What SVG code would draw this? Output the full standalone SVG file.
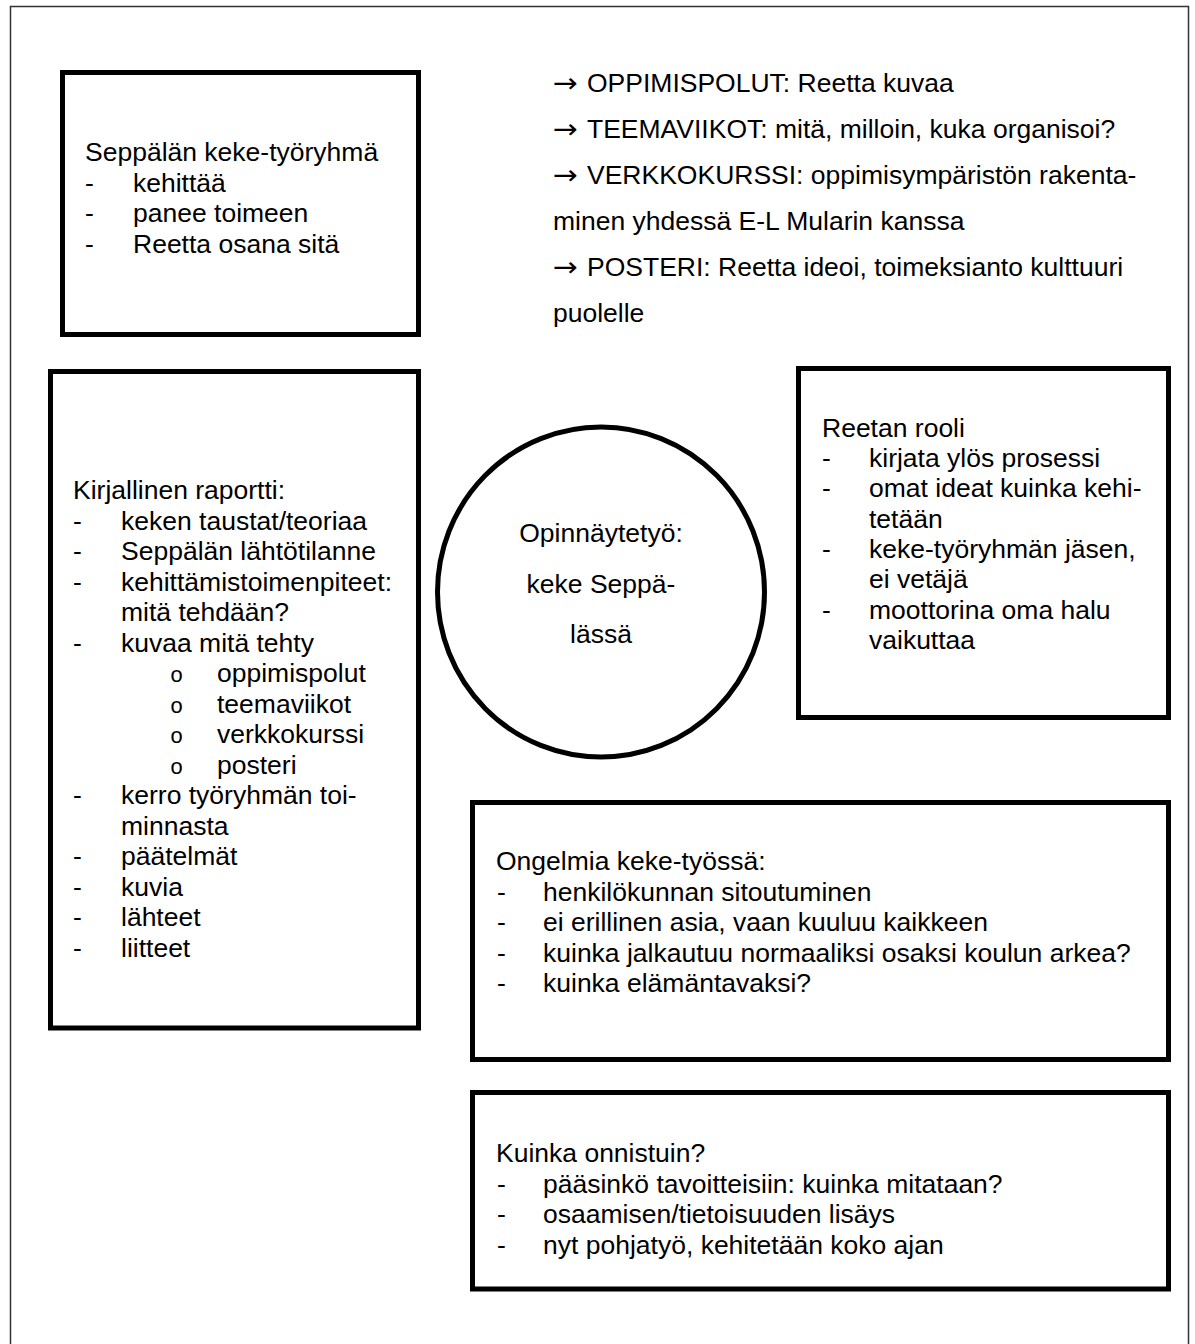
<svg xmlns="http://www.w3.org/2000/svg" width="1195" height="1344" viewBox="0 0 1195 1344">
<style>
.box{fill:#fff;stroke:#000;stroke-width:5}
.t{font-family:"Liberation Sans",Arial,sans-serif;font-size:26.5px;fill:#000}
.a{font-family:"DejaVu Sans","Liberation Sans",sans-serif;font-size:27px;fill:#000}
.o{font-family:"Liberation Mono","Courier New",monospace;font-size:22px;fill:#000}
</style>
<rect x="0" y="0" width="1195" height="1344" fill="#fff"/>
<path d="M10.5,1350 V6.5 H1188.5 V1350" fill="none" stroke="#333" stroke-width="1.5"/>
<g id="connectors"></g>
<g id="node-tyoryhma">
<rect class="box" x="62.5" y="72.5" width="356" height="262"/>
<text class="t" x="85" y="161">Seppälän keke-työryhmä</text>
<text class="t" x="85" y="191.5">-</text><text class="t" x="133" y="191.5">kehittää</text>
<text class="t" x="85" y="222">-</text><text class="t" x="133" y="222">panee toimeen</text>
<text class="t" x="85" y="252.5">-</text><text class="t" x="133" y="252.5">Reetta osana sitä</text>
</g>
<g id="node-lista">
<text class="a" x="553" y="92" textLength="25" lengthAdjust="spacingAndGlyphs">→</text>
<text class="t" x="587" y="92">OPPIMISPOLUT: Reetta kuvaa</text>
<text class="a" x="553" y="138" textLength="25" lengthAdjust="spacingAndGlyphs">→</text>
<text class="t" x="587" y="138">TEEMAVIIKOT: mitä, milloin, kuka organisoi?</text>
<text class="a" x="553" y="184" textLength="25" lengthAdjust="spacingAndGlyphs">→</text>
<text class="t" x="587" y="184">VERKKOKURSSI: oppimisympäristön rakenta-</text>
<text class="t" x="553" y="230">minen yhdessä E-L Mularin kanssa</text>
<text class="a" x="553" y="276" textLength="25" lengthAdjust="spacingAndGlyphs">→</text>
<text class="t" x="587" y="276">POSTERI: Reetta ideoi, toimeksianto kulttuuri</text>
<text class="t" x="553" y="322">puolelle</text>
</g>
<g id="node-raportti">
<rect class="box" x="50.5" y="371.5" width="368" height="656.5"/>
<text class="t" x="73" y="499">Kirjallinen raportti:</text>
<text class="t" x="73" y="529.5">-</text><text class="t" x="121" y="529.5">keken taustat/teoriaa</text>
<text class="t" x="73" y="560">-</text><text class="t" x="121" y="560">Seppälän lähtötilanne</text>
<text class="t" x="73" y="590.5">-</text><text class="t" x="121" y="590.5">kehittämistoimenpiteet:</text>
<text class="t" x="121" y="621">mitä tehdään?</text>
<text class="t" x="73" y="651.5">-</text><text class="t" x="121" y="651.5">kuvaa mitä tehty</text>
<text class="o" x="170" y="682">o</text><text class="t" x="217" y="682">oppimispolut</text>
<text class="o" x="170" y="712.5">o</text><text class="t" x="217" y="712.5">teemaviikot</text>
<text class="o" x="170" y="743">o</text><text class="t" x="217" y="743">verkkokurssi</text>
<text class="o" x="170" y="773.5">o</text><text class="t" x="217" y="773.5">posteri</text>
<text class="t" x="73" y="804">-</text><text class="t" x="121" y="804">kerro työryhmän toi-</text>
<text class="t" x="121" y="834.5">minnasta</text>
<text class="t" x="73" y="865">-</text><text class="t" x="121" y="865">päätelmät</text>
<text class="t" x="73" y="895.5">-</text><text class="t" x="121" y="895.5">kuvia</text>
<text class="t" x="73" y="926">-</text><text class="t" x="121" y="926">lähteet</text>
<text class="t" x="73" y="956.5">-</text><text class="t" x="121" y="956.5">liitteet</text>
</g>
<g id="node-opinnaytetyo">
<ellipse cx="601" cy="592" rx="163.5" ry="165" fill="#fff" stroke="#000" stroke-width="5"/>
<text class="t" x="601" y="542" text-anchor="middle">Opinnäytetyö:</text>
<text class="t" x="601" y="592.5" text-anchor="middle">keke Seppä-</text>
<text class="t" x="601" y="643" text-anchor="middle">lässä</text>
</g>
<g id="node-rooli">
<rect class="box" x="798.5" y="368.5" width="370" height="349"/>
<text class="t" x="822" y="437">Reetan rooli</text>
<text class="t" x="822" y="467">-</text><text class="t" x="869" y="467">kirjata ylös prosessi</text>
<text class="t" x="822" y="497">-</text><text class="t" x="869" y="497">omat ideat kuinka kehi-</text>
<text class="t" x="869" y="527.5">tetään</text>
<text class="t" x="822" y="558">-</text><text class="t" x="869" y="558">keke-työryhmän jäsen,</text>
<text class="t" x="869" y="588">ei vetäjä</text>
<text class="t" x="822" y="618.5">-</text><text class="t" x="869" y="618.5">moottorina oma halu</text>
<text class="t" x="869" y="648.5">vaikuttaa</text>
</g>
<g id="node-ongelmia">
<rect class="box" x="472.5" y="802.5" width="696" height="257"/>
<text class="t" x="496" y="870">Ongelmia keke-työssä:</text>
<text class="t" x="497" y="900.5">-</text><text class="t" x="543" y="900.5">henkilökunnan sitoutuminen</text>
<text class="t" x="497" y="931">-</text><text class="t" x="543" y="931">ei erillinen asia, vaan kuuluu kaikkeen</text>
<text class="t" x="497" y="961.5">-</text><text class="t" x="543" y="961.5">kuinka jalkautuu normaaliksi osaksi koulun arkea?</text>
<text class="t" x="497" y="992">-</text><text class="t" x="543" y="992">kuinka elämäntavaksi?</text>
</g>
<g id="node-onnistuin">
<rect class="box" x="472.5" y="1092.5" width="696" height="196.5"/>
<text class="t" x="496" y="1162">Kuinka onnistuin?</text>
<text class="t" x="497" y="1192.5">-</text><text class="t" x="543" y="1192.5">pääsinkö tavoitteisiin: kuinka mitataan?</text>
<text class="t" x="497" y="1223">-</text><text class="t" x="543" y="1223">osaamisen/tietoisuuden lisäys</text>
<text class="t" x="497" y="1253.5">-</text><text class="t" x="543" y="1253.5">nyt pohjatyö, kehitetään koko ajan</text>
</g>
</svg>
